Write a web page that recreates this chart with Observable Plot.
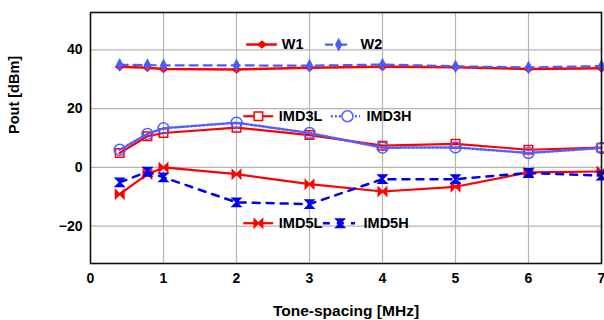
<!DOCTYPE html>
<html>
<head>
<meta charset="utf-8">
<script src="https://cdn.jsdelivr.net/npm/d3@7"></script>
<script src="https://cdn.jsdelivr.net/npm/@observablehq/plot@0.6"></script>
<style>
  html, body { margin: 0; padding: 0; background: #fff; }
  #chart svg { display: block; }
</style>
</head>
<body>
<div id="chart"></div>
<script>
// ---- data ----
const toneSpacing = [0.4, 0.78, 1, 2, 3, 4, 5, 6, 7];
const W1    = [34.2, 33.9, 33.5, 33.3, 33.9, 34.2, 34.1, 33.5, 33.7];
const W2    = [34.9, 34.8, 34.7, 34.7, 34.6, 35.0, 34.4, 34.0, 34.5];
const IMD3L = [4.9, 10.6, 11.7, 13.5, 11.0, 7.4, 8.0, 6.0, 6.7];
const IMD3H = [6.0, 11.4, 13.3, 15.2, 11.7, 6.7, 6.8, 4.9, 6.6];
const IMD5L = [-9.1, -2.3, 0.0, -2.3, -5.7, -8.2, -6.6, -1.7, -1.4];
const IMD5H = [-5.1, -1.5, -3.4, -11.9, -12.5, -4.0, -4.0, -1.9, -2.8];
const xTicks = [0, 1, 2, 3, 4, 5, 6, 7];
const yTicks = [-20, 0, 20, 40];
const seriesNames = ["W1", "W2", "IMD3L", "IMD3H", "IMD5L", "IMD5H"];
const xTitle = "Tone-spacing [MHz]";
const yTitle = "Pout [dBm]";

// ---- custom symbols ----
const bowtieH = { draw(ctx, size) { const r = Math.sqrt(size / Math.PI);
  ctx.moveTo(-r, -r); ctx.lineTo(r, r); ctx.lineTo(r, -r); ctx.lineTo(-r, r); ctx.closePath(); } };
const bowtieV = { draw(ctx, size) { const r = Math.sqrt(size / Math.PI);
  ctx.moveTo(-r, -r); ctx.lineTo(r, -r); ctx.lineTo(-r, r); ctx.lineTo(r, r); ctx.closePath(); } };
const tallDiamond = { draw(ctx, size) { const r = Math.sqrt(size / Math.PI);
  ctx.moveTo(0, -1.5 * r); ctx.lineTo(0.8 * r, 0); ctx.lineTo(0, 1.5 * r); ctx.lineTo(-0.8 * r, 0); ctx.closePath(); } };
const smallDiamond = { draw(ctx, size) { const r = Math.sqrt(size / Math.PI);
  ctx.moveTo(0, -1.1 * r); ctx.lineTo(1.3 * r, 0); ctx.lineTo(0, 1.1 * r); ctx.lineTo(-1.3 * r, 0); ctx.closePath(); } };

// ---- styles ----
const styles = {
  W1:    {stroke: "#ff0000", width: 2.5, dash: null,  symbol: smallDiamond, r: 3.0, fill: "#ff0000"},
  W2:    {stroke: "#4a5cff", width: 2.2, dash: "8,6", symbol: tallDiamond, r: 3.5, fill: "#4a5cff"},
  IMD3L: {stroke: "#ff0000", width: 2.2, dash: null,  symbol: "square",   r: 4.8, fill: "none"},
  IMD3H: {stroke: "#5060ff", width: 2.5, dash: "2,2", symbol: "circle",   r: 5.5, fill: "none"},
  IMD5L: {stroke: "#ff0000", width: 2.2, dash: null,  symbol: bowtieH,    r: 4.2, fill: "#ff0000"},
  IMD5H: {stroke: "#0000ee", width: 2.5, dash: "7,7", symbol: bowtieV,    r: 4.2, fill: "#0000ee"}
};
// legend layout (data coordinates): line x1, x2, marker x, text x, y
const legendLayout = {
  W1:    [2.14, 2.56, 2.35, 2.62, 41.8],
  W2:    [3.22, 3.60, 3.40, 3.70, 41.8],
  IMD3L: [2.10, 2.51, 2.30, 2.58, 17.4],
  IMD3H: [3.30, 3.70, 3.52, 3.78, 17.4],
  IMD5L: [2.10, 2.51, 2.30, 2.58, -19.0],
  IMD5H: [3.19, 3.63, 3.42, 3.74, -19.0]
};

const values = {W1, W2, IMD3L, IMD3H, IMD5L, IMD5H};
const marks = [];
marks.push(Plot.gridX([1, 2, 3, 4, 5, 6], {stroke: "#b4b4b4", strokeOpacity: 1, strokeWidth: 1.2}));
marks.push(Plot.gridY(yTicks, {stroke: "#b4b4b4", strokeOpacity: 1, strokeWidth: 1.2}));

for (const name of seriesNames) {
  const s = styles[name];
  const data = toneSpacing.map((x, i) => ({x, y: values[name][i]}));
  marks.push(Plot.line(data, {x: "x", y: "y", stroke: s.stroke, strokeWidth: s.width, strokeDasharray: s.dash}));
  marks.push(Plot.dot(data, {x: "x", y: "y", symbol: s.symbol, r: s.r, fill: s.fill, stroke: s.stroke, strokeWidth: 1.5}));
  const [lx1, lx2, mx, tx, ly] = legendLayout[name];
  marks.push(Plot.ruleY([ly], {x1: lx1, x2: lx2, stroke: s.stroke, strokeWidth: s.width, strokeDasharray: s.dash}));
  marks.push(Plot.dot([{x: mx, y: ly}], {x: "x", y: "y", symbol: s.symbol, r: s.r, fill: s.fill === "none" ? "white" : s.fill, stroke: s.stroke, strokeWidth: 1.5}));
  marks.push(Plot.text([name], {x: tx, y: ly, text: d => d, textAnchor: "start", fontSize: 14.5, fontWeight: "bold", fill: "#000"}));
}

marks.push(Plot.axisX(xTicks, {tickSize: 0, tickPadding: 10, fontSize: 14, fontWeight: "bold", label: null}));
marks.push(Plot.axisY(yTicks, {tickSize: 0, tickPadding: 8, fontSize: 14, fontWeight: "bold", label: null}));
marks.push(Plot.text([xTitle], {frameAnchor: "bottom", dy: 48, lineAnchor: "middle", text: d => d, fontSize: 15.5, fontWeight: "bold", fill: "#000"}));
marks.push(Plot.text([yTitle], {frameAnchor: "left", dx: -76, dy: -4, rotate: -90, lineAnchor: "middle", text: d => d, fontSize: 14.5, fontWeight: "bold", fill: "#000"}));
marks.push(Plot.frame({stroke: "#111", strokeWidth: 1.6}));

const chart = Plot.plot({
  width: 604,
  height: 320,
  marginLeft: 90,
  marginRight: 3,
  marginTop: 12,
  marginBottom: 57,
  style: {fontFamily: "'Liberation Sans', Arial, sans-serif", fontSize: "14px", fontWeight: "bold", color: "#000", background: "#fff"},
  x: {domain: [0, 7]},
  y: {domain: [-32.7, 52.7]},
  marks
});
document.getElementById("chart").appendChild(chart);
</script>
</body>
</html>
